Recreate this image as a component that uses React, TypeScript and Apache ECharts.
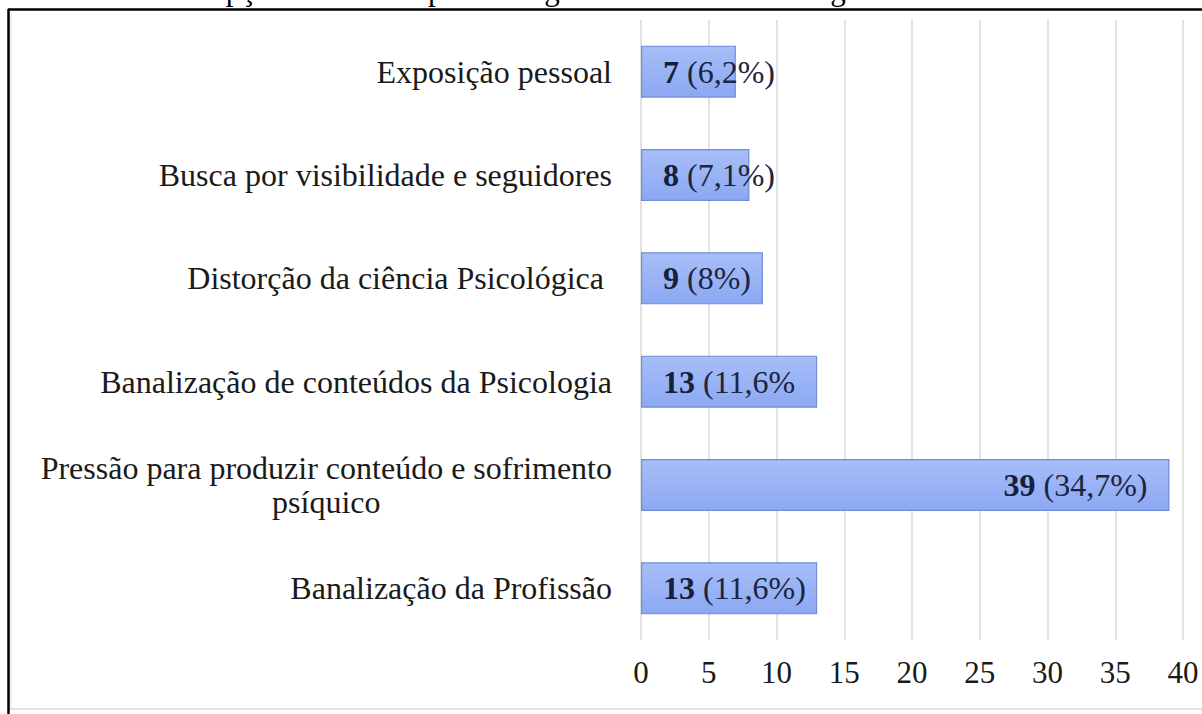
import React, { useEffect, useRef } from "react";
import * as echarts from "echarts";

const titleText = "Gráfico 4 – Percepção sobre os aspectos negativos do uso do Instagram";

const categories = [
  "Exposição pessoal",
  "Busca por visibilidade e seguidores",
  "Distorção da ciência Psicológica ",
  "Banalização de conteúdos da Psicologia",
  "Pressão para produzir conteúdo e sofrimento\npsíquico",
  "Banalização da Profissão",
];

const counts = [7, 8, 9, 13, 39, 13];
const percents = ["(6,2%)", "(7,1%)", "(8%)", "(11,6%", "(34,7%)", "(11,6%)"];

const xMin = 0;
const xMax = 40;
const xInterval = 5;

const SERIF = "'Liberation Serif', 'Times New Roman', 'DejaVu Serif', serif";
const FS = 32;

export default function App() {
  const ref = useRef<HTMLDivElement>(null);

  useEffect(() => {
    if (!ref.current) return;
    const chart = echarts.init(ref.current, null, { renderer: "svg" });

    const data = counts.map((v, i) => {
      const big = v > 30;
      return {
        value: v,
        label: {
          show: true,
          position: big ? "insideRight" : "insideLeft",
          distance: 22,
          formatter: `{b|${v}} {n|${percents[i]}}`,
        },
      };
    });

    chart.setOption({
      animation: false,
      backgroundColor: "#ffffff",
      grid: { left: 641, right: 19, top: 20, bottom: 74, containLabel: false },
      xAxis: {
        type: "value",
        min: xMin,
        max: xMax,
        interval: xInterval,
        axisLine: { show: false },
        axisTick: { show: false },
        splitLine: { show: true, lineStyle: { color: "#d9d9d9", width: 1.5 } },
        axisLabel: {
          color: "#1a1a1a",
          fontFamily: SERIF,
          fontSize: 31,
          margin: 17,
        },
      },
      yAxis: {
        type: "category",
        inverse: true,
        data: categories,
        axisLine: { show: false },
        axisTick: { show: false },
        axisLabel: {
          margin: 29,
          fontFamily: SERIF,
          fontSize: FS,
          color: "#1a1a1a",
          formatter: (val: string) =>
            val
              .split("\n")
              .map((s) => `{c|${s}}`)
              .join("\n"),
          rich: {
            c: {
              fontFamily: SERIF,
              fontSize: FS,
              color: "#1a1a1a",
              align: "center",
              lineHeight: 34,
            },
          },
        },
      },
      series: [
        {
          type: "bar",
          data,
          barWidth: 52,
          itemStyle: {
            color: new echarts.graphic.LinearGradient(0, 0, 0, 1, [
              { offset: 0, color: "#a6bef8" },
              { offset: 1, color: "#8ca8f2" },
            ]),
            borderColor: "#6f8cd6",
            borderWidth: 1.2,
          },
          label: {
            show: true,
            color: "#1c2540",
            fontFamily: SERIF,
            fontSize: FS,
            rich: {
              b: { fontFamily: SERIF, fontSize: FS, fontWeight: "bold", color: "#15203a" },
              n: { fontFamily: SERIF, fontSize: FS, color: "#1c2540" },
            },
          },
        },
      ],
      graphic: [
        {
          type: "text",
          x: 8,
          y: -11,
          style: {
            text: titleText,
            fontFamily: SERIF,
            fontSize: 31,
            fill: "#000000",
            verticalAlign: "middle",
            align: "left",
          },
        },
        {
          type: "line",
          shape: { x1: 8, y1: 9.5, x2: 1202, y2: 9.5 },
          style: { stroke: "#000000", lineWidth: 2.5 },
        },
        {
          type: "line",
          shape: { x1: 8.5, y1: 9, x2: 8.5, y2: 714 },
          style: { stroke: "#000000", lineWidth: 2.5 },
        },
        {
          type: "line",
          shape: { x1: 10, y1: 709, x2: 1202, y2: 709 },
          style: { stroke: "#e2e2e2", lineWidth: 2 },
        },
        {
          type: "line",
          shape: { x1: 11, y1: 12, x2: 11, y2: 708 },
          style: { stroke: "#f0f0f0", lineWidth: 2 },
        },
      ],
    });

    return () => chart.dispose();
  }, []);

  return (
    <div
      style={{
        position: "fixed",
        left: 0,
        top: 0,
        width: 1202,
        height: 714,
        background: "#ffffff",
        overflow: "hidden",
      }}
    >
      <div ref={ref} style={{ width: 1202, height: 714 }} />
    </div>
  );
}
